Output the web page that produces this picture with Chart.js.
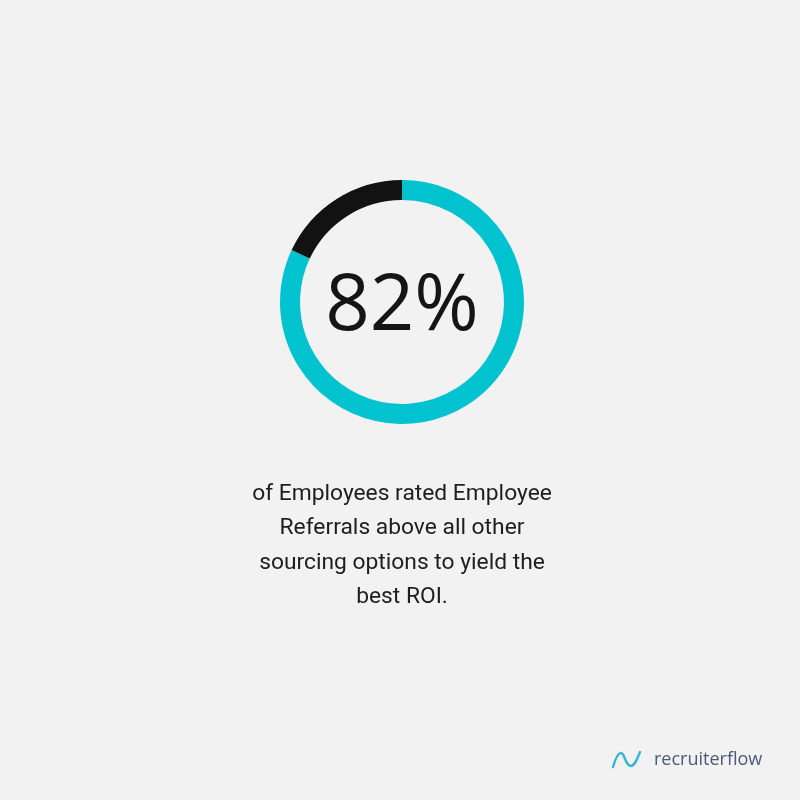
<!DOCTYPE html>
<html>
<head>
<meta charset="utf-8">
<script src="https://cdn.jsdelivr.net/npm/chart.js@4"></script>
<style>
  html, body { margin: 0; padding: 0; background: #f2f2f2; }
  #wrap { position: relative; width: 800px; height: 800px; background: #f2f2f2; overflow: hidden; }
  #chart { position: absolute; left: 0; top: 0; }
  #caption {
    position: absolute; left: 0; width: 804px; top: 476px;
    text-align: center; font-family: Roboto, sans-serif; font-size: 22.8px;
    line-height: 34.3px; color: #1e1e1e;
  }
  #brand { position: absolute; left: 610px; top: 744px; height: 28px; display: flex; align-items: center; }
  #brand span { font-family: "Open Sans", sans-serif; font-size: 18px; font-weight: 500; color: #4c5a78; margin-left: 12px; }
</style>
</head>
<body>
<div id="wrap">
  <canvas id="chart" width="800" height="800"></canvas>
  <div id="caption">of Employees rated Employee<br>Referrals above all other<br>sourcing options to yield the<br>best ROI.</div>
  <div id="brand">
    <svg width="32" height="22" viewBox="0 0 32 22">
      <path d="M3 20 C5 13 8 6 11 6 C15 6 15 19 21 19 C25 19 27 12 30 5" fill="none" stroke="#35b6d9" stroke-width="2.4" stroke-linecap="round"/>
    </svg>
    <span>recruiterflow</span>
  </div>
</div>
<script>
// Share of employees rating referrals best, and the remainder
const categories = ['Employee Referrals rated best', 'Other'];
const shareValues = [82, 18];
const sliceColors = ['#00c3cf', '#121212'];

// Writes the headline percentage in the middle of the ring
const centerLabel = {
  id: 'centerLabel',
  afterDatasetsDraw(chart) {
    const arc = chart.getDatasetMeta(0).data[0];
    const { ctx } = chart;
    ctx.save();
    ctx.font = '400 78px "Open Sans", sans-serif';
    ctx.fillStyle = '#151515';
    ctx.textAlign = 'center';
    ctx.textBaseline = 'alphabetic';
    ctx.fillText(shareValues[0] + '%', arc.x, arc.y + 28);
    ctx.restore();
  }
};

new Chart(document.getElementById('chart'), {
  type: 'doughnut',
  data: {
    labels: categories,
    datasets: [{
      data: shareValues,
      backgroundColor: sliceColors,
      borderWidth: 0,
      hoverOffset: 0
    }]
  },
  options: {
    responsive: false,
    animation: false,
    cutout: '83.6%',
    layout: { padding: { left: 280, right: 276, top: 180, bottom: 376 } },
    plugins: { legend: { display: false }, tooltip: { enabled: false } },
    events: []
  },
  plugins: [centerLabel]
});
</script>
</body>
</html>
